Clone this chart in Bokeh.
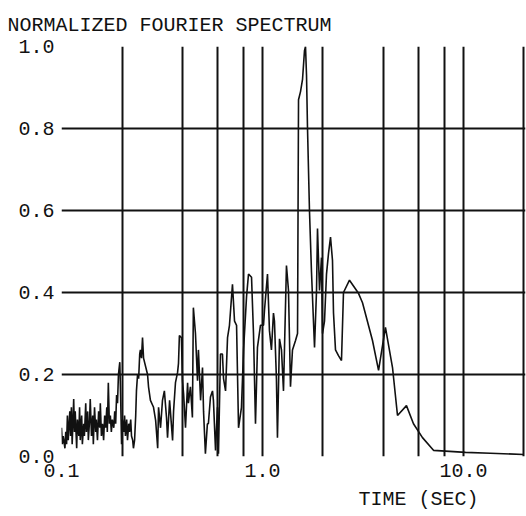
from bokeh.plotting import figure
from bokeh.models import FixedTicker, PrintfTickFormatter, Range1d, Title
from bokeh.embed import file_html
from bokeh.resources import INLINE

# ---- data ----
period_sec = [
    0.100, 0.101, 0.102, 0.104, 0.105, 0.106, 0.107, 0.108, 0.110, 0.111,
    0.112, 0.113, 0.115, 0.116, 0.117, 0.119, 0.120, 0.122, 0.123, 0.124,
    0.126, 0.127, 0.129, 0.130, 0.132, 0.133, 0.135, 0.136, 0.138, 0.139,
    0.141, 0.143, 0.144, 0.146, 0.148, 0.149, 0.151, 0.153, 0.155, 0.156,
    0.158, 0.160, 0.162, 0.164, 0.166, 0.168, 0.169, 0.171, 0.173, 0.175,
    0.177, 0.179, 0.182, 0.184, 0.186, 0.188, 0.190, 0.192, 0.195, 0.197,
    0.199, 0.201, 0.204, 0.206, 0.208, 0.211, 0.213, 0.216, 0.218, 0.221,
    0.223, 0.226, 0.228, 0.231, 0.234, 0.236, 0.239, 0.242, 0.245, 0.247,
    0.250, 0.253, 0.256,
    0.268, 0.271, 0.277, 0.287, 0.294, 0.301, 0.304, 0.311, 0.318, 0.325,
    0.333, 0.337, 0.345, 0.357, 0.361, 0.369, 0.378, 0.382, 0.386, 0.395,
    0.400, 0.405, 0.414, 0.424, 0.428, 0.438, 0.448, 0.453, 0.464, 0.475,
    0.480, 0.492, 0.503, 0.509, 0.520, 0.532, 0.538, 0.551, 0.564, 0.570,
    0.584, 0.597, 0.604, 0.618, 0.632, 0.640, 0.655, 0.670, 0.685, 0.709,
    0.726, 0.743, 0.760, 0.786, 0.805, 0.833, 0.852, 0.882, 0.902, 0.923,
    0.944, 0.977, 1.012, 1.023, 1.059, 1.083, 1.108, 1.134, 1.147, 1.173,
    1.187, 1.215, 1.243, 1.272, 1.286, 1.316, 1.347, 1.378, 1.410, 1.460,
    1.494, 1.511, 1.546, 1.582, 1.618, 1.637, 1.656, 1.675, 1.713, 1.753,
    1.815, 1.857, 1.878, 1.922, 1.966, 1.989, 2.035, 2.082, 2.130, 2.180,
    2.230, 2.256, 2.308, 2.388, 2.472, 2.529, 2.709, 3.004, 3.145, 3.526,
    3.780, 4.090, 4.435, 4.696, 5.204, 5.639, 6.252, 7.092, 10.23, 13.62, 19.9,
]

norm_spectrum = [
    0.07, 0.03, 0.05, 0.02, 0.06, 0.03, 0.10, 0.04, 0.11, 0.05,
    0.12, 0.03, 0.14, 0.06, 0.11, 0.02, 0.09, 0.05, 0.12, 0.04,
    0.10, 0.03, 0.08, 0.05, 0.13, 0.06, 0.11, 0.04, 0.09, 0.14,
    0.05, 0.10, 0.03, 0.12, 0.06, 0.09, 0.04, 0.11, 0.07, 0.13,
    0.05, 0.08, 0.04, 0.10, 0.07, 0.12, 0.06, 0.18, 0.08, 0.10,
    0.06, 0.09, 0.07, 0.11, 0.08, 0.15, 0.13, 0.20, 0.23, 0.14,
    0.03, 0.09, 0.06, 0.10, 0.05, 0.09, 0.04, 0.08, 0.06, 0.09,
    0.05, 0.04, 0.02, 0.04, 0.10, 0.16, 0.20, 0.19, 0.25, 0.26,
    0.24, 0.29, 0.24,
    0.20, 0.17, 0.137, 0.12, 0.088, 0.02, 0.12, 0.07, 0.137, 0.16,
    0.095, 0.046, 0.137, 0.039, 0.11, 0.18, 0.205, 0.227, 0.295, 0.29,
    0.185, 0.153, 0.07, 0.18, 0.13, 0.17, 0.095, 0.363, 0.30, 0.185,
    0.26, 0.137, 0.217, 0.11, 0.007, 0.08, 0.08, 0.145, 0.16, 0.137,
    0.015, 0.12, 0.007, 0.25, 0.25, 0.19, 0.16, 0.29, 0.32, 0.42,
    0.33, 0.32, 0.07, 0.12, 0.26, 0.39, 0.445, 0.437, 0.30, 0.08,
    0.266, 0.32, 0.32, 0.356, 0.445, 0.307, 0.26, 0.35, 0.33, 0.19,
    0.046, 0.287, 0.26, 0.16, 0.26, 0.466, 0.405, 0.17, 0.26, 0.283,
    0.30, 0.87, 0.89, 0.92, 0.99, 1.0, 0.93, 0.80, 0.60, 0.45,
    0.266, 0.405, 0.556, 0.405, 0.485, 0.30, 0.33, 0.445, 0.495, 0.535,
    0.478, 0.35, 0.26, 0.246, 0.234, 0.40, 0.43, 0.398, 0.375, 0.283,
    0.21, 0.315, 0.217, 0.10, 0.124, 0.08, 0.046, 0.015, 0.01, 0.008, 0.005,
]

x_tick_values = [0.1, 1.0, 10.0]
x_grid_values = [0.1, 0.2, 0.4, 0.6, 0.8, 1.0, 2.0, 4.0, 6.0, 8.0, 10.0, 20.0]
y_tick_values = [0.0, 0.2, 0.4, 0.6, 0.8, 1.0]

title_text = "NORMALIZED FOURIER SPECTRUM"
x_label_text = "TIME (SEC)"

assert len(period_sec) == len(norm_spectrum)

FONT = "Liberation Mono"
INK = "#111111"

p = figure(
    width=526, height=516,
    x_axis_type="log",
    x_range=Range1d(0.1, 20.35), y_range=Range1d(0.0, 1.0),
    output_backend="svg", toolbar_location=None,
    min_border_left=61, min_border_right=1, min_border_top=46, min_border_bottom=60,
    background_fill_color="white", border_fill_color="white",
)
p.outline_line_color = None

# grid
p.xgrid.ticker = FixedTicker(ticks=x_grid_values, minor_ticks=[])
p.ygrid.ticker = FixedTicker(ticks=y_tick_values, minor_ticks=[])
for g in (p.xgrid, p.ygrid):
    g.grid_line_color = INK
    g.grid_line_width = 2
    g.grid_line_alpha = 1.0

# axes
p.xaxis.ticker = FixedTicker(ticks=x_tick_values, minor_ticks=[])
p.yaxis.ticker = FixedTicker(ticks=y_tick_values, minor_ticks=[])
p.xaxis.formatter = PrintfTickFormatter(format="%.1f")
p.yaxis.formatter = PrintfTickFormatter(format="%.1f")
for ax in (p.xaxis, p.yaxis):
    ax.axis_line_color = None
    ax.major_tick_line_color = None
    ax.minor_tick_line_color = None
    ax.major_tick_out = 0
    ax.major_tick_in = 0
    ax.major_label_standoff = 7
    ax.major_label_text_font = FONT
    ax.major_label_text_font_size = "20px"
    ax.major_label_text_color = INK

# spectrum line
p.line(period_sec, norm_spectrum, line_color=INK, line_width=1.6)

# texts (titles live in side panels, so they are not clipped by the frame)
p.add_layout(Title(text=title_text, align="left", offset=-54, standoff=20,
                   text_font=FONT, text_font_size="20px", text_font_style="normal",
                   text_color=INK), "above")
p.add_layout(Title(text=x_label_text, align="left", offset=297, standoff=12,
                   text_font=FONT, text_font_size="20px", text_font_style="normal",
                   text_color=INK), "below")

open("out.html", "w").write(file_html(p, INLINE))
